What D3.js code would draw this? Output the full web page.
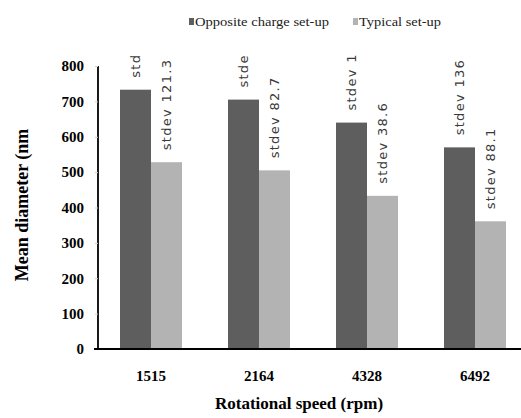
<!DOCTYPE html>
<html>
<head>
<meta charset="utf-8">
<script src="https://cdn.jsdelivr.net/npm/d3@7"></script>
<style>
  body { margin: 0; background: #fff; }
  svg { display: block; }
</style>
</head>
<body>
<svg width="521" height="418"></svg>
<script>
// data
var speeds = ["1515", "2164", "4328", "6492"];
var seriesNames = ["Opposite charge set-up", "Typical set-up"];
var opposite = [733, 705, 640, 570];
var typical = [528, 505, 433, 361];
// the dark-bar labels run off the top of the plot in the original, only this much shows
var oppositeLabels = ["std", "stde", "stdev 1", "stdev 136"];
var typicalLabels = ["stdev 121.3", "stdev 82.7", "stdev 38.6", "stdev 88.1"];
var yTicks = [0, 100, 200, 300, 400, 500, 600, 700, 800];

var colors = ["#5e5e5e", "#b3b3b3"];
var serif = "'Liberation Serif', 'Times New Roman', serif";

var svg = d3.select("svg");

var x0 = d3.scaleBand()
    .domain(speeds)
    .range([97, 529]);

var inner = d3.scaleBand()
    .domain([0, 1])
    .range([0, 62]);

var y = d3.scaleLinear()
    .domain([0, 800])
    .range([349, 66]);

var rows = speeds.map(function(s, i) {
  return [
    {speed: s, k: 0, v: opposite[i], label: oppositeLabels[i]},
    {speed: s, k: 1, v: typical[i], label: typicalLabels[i]}
  ];
});

function groupLeft(s) { return x0(s) + x0.bandwidth() / 2 - 31; }

// bars
var groups = svg.append("g").selectAll("g")
    .data(rows)
  .enter().append("g")
    .attr("transform", function(d) { return "translate(" + groupLeft(d[0].speed) + ",0)"; });

groups.selectAll("rect")
    .data(function(d) { return d; })
  .enter().append("rect")
    .attr("x", function(d) { return inner(d.k); })
    .attr("y", function(d) { return y(d.v); })
    .attr("width", inner.bandwidth())
    .attr("height", function(d) { return y(0) - y(d.v); })
    .attr("fill", function(d) { return colors[d.k]; });

// stdev labels
var labels = svg.append("g");
rows.forEach(function(r) {
  r.forEach(function(d) {
    var cx = groupLeft(d.speed) + inner(d.k) + inner.bandwidth() / 2;
    var ty = y(d.v) - 12;
    labels.append("text")
        .attr("transform", "translate(" + (cx + 4.5) + "," + ty + ") rotate(-90)")
        .attr("font-family", "'DejaVu Sans', sans-serif")
        .attr("font-size", 13)
        .attr("letter-spacing", 1.3)
        .attr("fill", "#3a3a3a")
        .text(d.label);
  });
});

// y axis
var yAxis = svg.append("g")
    .attr("transform", "translate(98,0)")
    .call(d3.axisLeft(y).tickValues(yTicks).tickSize(3).tickPadding(11));
yAxis.select(".domain").attr("stroke", "#000").attr("stroke-width", 1.8)
    .attr("d", "M0," + y(800) + "V" + y(0));
yAxis.selectAll(".tick line").attr("stroke", "#ccc");
yAxis.select(".tick line").attr("stroke", "#000");
yAxis.selectAll("text")
    .attr("font-family", serif)
    .attr("font-weight", "bold")
    .attr("font-size", 15)
    .attr("fill", "#000");

// x axis
var xAxis = svg.append("g")
    .attr("transform", "translate(0,349)")
    .call(d3.axisBottom(x0).tickSize(0).tickPadding(21));
xAxis.select(".domain").attr("stroke", "#000").attr("stroke-width", 1.8)
    .attr("d", "M94,0H521");
xAxis.selectAll("text")
    .attr("font-family", serif)
    .attr("font-weight", "bold")
    .attr("font-size", 15)
    .attr("fill", "#000");

// axis titles
svg.append("text")
    .attr("transform", "translate(28,205) rotate(-90)")
    .attr("text-anchor", "middle")
    .attr("font-family", serif)
    .attr("font-weight", "bold")
    .attr("font-size", 18)
    .text("Mean diameter (nm");

svg.append("text")
    .attr("x", 299).attr("y", 409)
    .attr("text-anchor", "middle")
    .attr("font-family", serif)
    .attr("font-weight", "bold")
    .attr("font-size", 17)
    .text("Rotational speed (rpm)");

// legend
var legendX = [189, 353];
var legendW = [134, 82];
var legend = svg.append("g").selectAll("g")
    .data(seriesNames)
  .enter().append("g")
    .attr("transform", function(d, i) { return "translate(" + legendX[i] + ",0)"; });
legend.append("rect")
    .attr("x", 0).attr("y", 18)
    .attr("width", 5).attr("height", 7)
    .attr("fill", function(d, i) { return colors[i]; });
legend.append("text")
    .attr("x", 6).attr("y", 26)
    .attr("font-family", serif)
    .attr("font-size", 12.5)
    .attr("fill", "#222")
    .attr("textLength", function(d, i) { return legendW[i]; })
    .attr("lengthAdjust", "spacingAndGlyphs")
    .text(function(d) { return d; });
</script>
</body>
</html>
